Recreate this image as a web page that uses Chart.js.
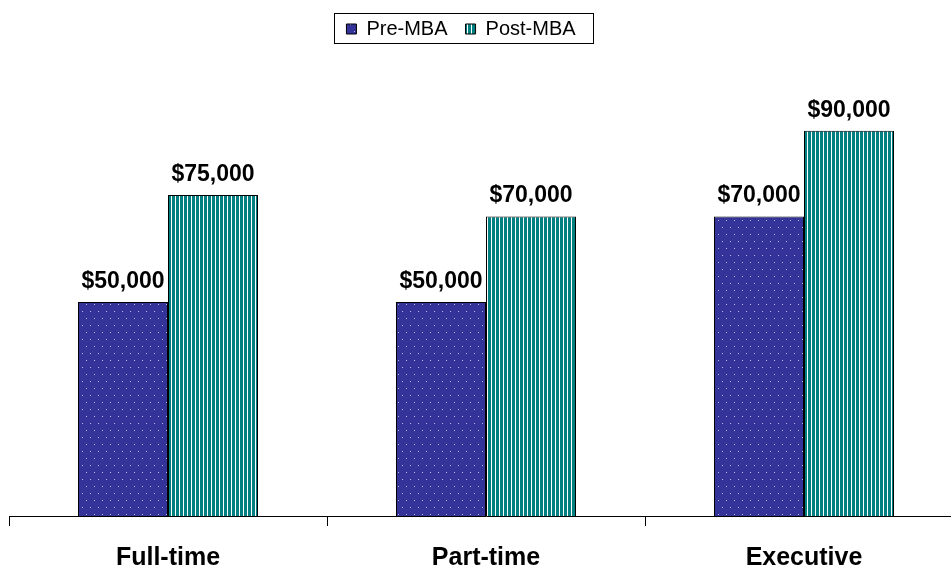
<!DOCTYPE html>
<html>
<head>
<meta charset="utf-8">
<script src="https://cdn.jsdelivr.net/npm/chart.js@4.4.1/dist/chart.umd.min.js"></script>
<style>
  html, body { margin: 0; padding: 0; background: #fff; overflow: hidden; }
  #wrap { width: 963px; height: 591px; position: relative; }
</style>
</head>
<body>
<div id="wrap"><canvas id="mbaChart"></canvas></div>
<script>
const categories = ["Full-time", "Part-time", "Executive"];
const preMbaSalary = [50000, 50000, 70000];
const postMbaSalary = [75000, 70000, 90000];
const seriesNames = ["Pre-MBA", "Post-MBA"];

const FONT = "'Liberation Sans', Arial, sans-serif";

// dotted navy fill
function dotPattern() {
  const c = document.createElement("canvas");
  c.width = 8;
  c.height = 14;
  const g = c.getContext("2d");
  g.fillStyle = "#333399";
  g.fillRect(0, 0, 8, 14);
  g.fillStyle = "#b8b8e0";
  g.fillRect(2, 3, 1, 1);
  g.fillRect(6, 10, 1, 1);
  return g.createPattern(c, "repeat");
}

// vertical teal stripes
function stripePattern() {
  const c = document.createElement("canvas");
  c.width = 4;
  c.height = 4;
  const g = c.getContext("2d");
  g.fillStyle = "#ffffff";
  g.fillRect(0, 0, 4, 4);
  g.fillStyle = "#008080";
  g.fillRect(0, 0, 3, 4);
  return g.createPattern(c, "repeat");
}

const valueLabels = {
  id: "valueLabels",
  afterDatasetsDraw(chart) {
    const ctx = chart.ctx;
    ctx.save();
    ctx.font = "bold 23px " + FONT;
    ctx.fillStyle = "#000";
    ctx.textAlign = "center";
    ctx.textBaseline = "alphabetic";
    chart.data.datasets.forEach((ds, i) => {
      chart.getDatasetMeta(i).data.forEach((bar, j) => {
        const txt = "$" + ds.data[j].toLocaleString("en-US");
        ctx.fillText(txt, bar.x, bar.y - 14);
      });
    });
    ctx.restore();
  },
};

// box round the legend, room under it, and nudge it left
const legendBox = {
  id: "legendBox",
  beforeInit(chart) {
    const fit = chart.legend.fit;
    chart.legend.fit = function () {
      fit.bind(chart.legend)();
      this.height += 39;
    };
  },
  afterLayout(chart) {
    chart.legend.left -= 25;
    chart.legend.right -= 25;
  },
  afterDraw(chart) {
    const lg = chart.legend;
    if (!lg || !lg.legendHitBoxes.length) return;
    const boxes = lg.legendHitBoxes;
    const first = boxes[0];
    const last = boxes[boxes.length - 1];
    const ctx = chart.ctx;
    ctx.save();
    ctx.strokeStyle = "#000";
    ctx.lineWidth = 1;
    const x1 = Math.round(first.left) - 11.5;
    const x2 = Math.round(last.left + last.width) + 17.5;
    const y1 = Math.round(first.top) - 5.5;
    const y2 = Math.round(first.top + first.height) + 4.5;
    ctx.strokeRect(x1, y1, x2 - x1, y2 - y1);
    ctx.restore();
  },
};

window.addEventListener("load", () => {
  const ctx = document.getElementById("mbaChart").getContext("2d");
  new Chart(ctx, {
    type: "bar",
    data: {
      labels: categories,
      datasets: [
        {
          label: seriesNames[0],
          data: preMbaSalary,
          backgroundColor: dotPattern(),
          borderColor: "#000",
          borderWidth: 1,
        },
        {
          label: seriesNames[1],
          data: postMbaSalary,
          backgroundColor: stripePattern(),
          borderColor: "#000",
          borderWidth: 1,
        },
      ],
    },
    options: {
      responsive: true,
      maintainAspectRatio: false,
      animation: false,
      layout: { padding: { left: 9, right: 0, top: 1, bottom: 0 } },
      datasets: {
        bar: { barPercentage: 1, categoryPercentage: 0.566 },
      },
      plugins: {
        tooltip: { enabled: false },
        legend: {
          display: true,
          position: "top",
          labels: {
            boxWidth: 10,
            boxHeight: 10,
            padding: 18,
            color: "#000",
            font: { family: FONT, size: 20 },
          },
        },
      },
      scales: {
        x: {
          offset: true,
          grid: {
            display: true,
            offset: true,
            drawOnChartArea: false,
            drawTicks: true,
            tickLength: 10,
            color: "#000",
          },
          border: { display: true, color: "#000", width: 1 },
          ticks: {
            color: "#000",
            padding: 20,
            font: { family: FONT, size: 25, weight: "bold", lineHeight: 1 },
          },
        },
        y: {
          display: false,
          min: 0,
          max: 100000,
        },
      },
    },
    plugins: [valueLabels, legendBox],
  });
});
</script>
</body>
</html>
